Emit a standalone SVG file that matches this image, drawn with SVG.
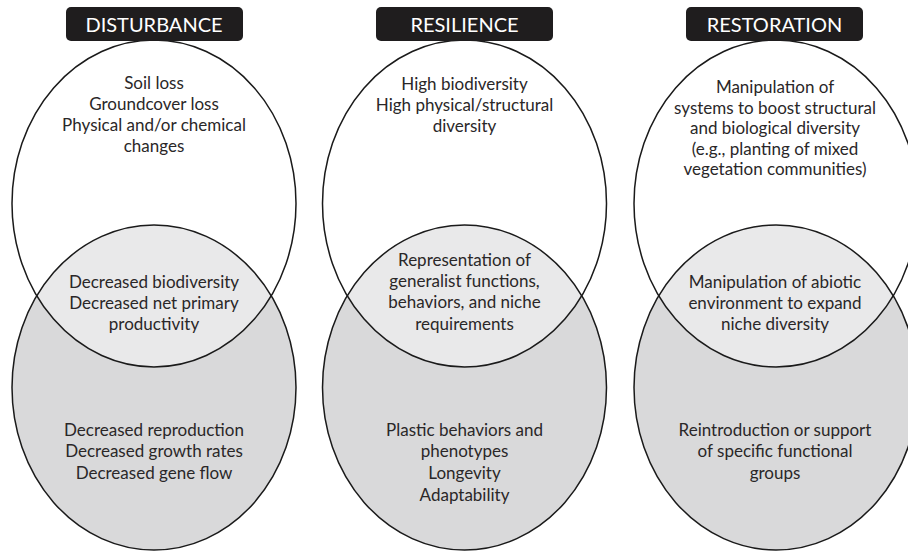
<svg xmlns="http://www.w3.org/2000/svg" xmlns:xlink="http://www.w3.org/1999/xlink" width="908" height="551" viewBox="0 0 908 551">
<style>
.hdr{fill:#1f1d1e}
.ht{fill:#fff;font-family:Lato,"Liberation Sans",sans-serif;font-size:20px;text-anchor:middle}
.t{fill:#2a2728;font-family:Lato,"Liberation Sans",sans-serif;font-size:17px;text-anchor:middle}
.up{fill:#fff}
.lo{fill:#d9d9da}
.mid{fill:#e9e9ea}
.ln{fill:none;stroke:#1a1a1a;stroke-width:1.5}
</style>
<defs>
<ellipse id="eu" cx="0" cy="203.5" rx="142" ry="163.5"/>
<ellipse id="el" cx="0" cy="387.5" rx="142" ry="162.5"/>
<clipPath id="cu"><use xlink:href="#eu"/></clipPath>
</defs>
<rect width="908" height="551" fill="#fff"/>
<g id="disturbance" transform="translate(154,0)">
<use xlink:href="#eu" class="up"/>
<use xlink:href="#el" class="lo"/>
<use xlink:href="#el" class="mid" clip-path="url(#cu)"/>
<use xlink:href="#eu" class="ln"/>
<use xlink:href="#el" class="ln"/>
<rect class="hdr" x="-88" y="7" width="177" height="34" rx="5"/>
<text class="ht" x="0" y="32">DISTURBANCE</text>
<text class="t" x="0" y="89">Soil loss</text>
<text class="t" x="0" y="110">Groundcover loss</text>
<text class="t" x="0" y="131">Physical and/or chemical</text>
<text class="t" x="0" y="152">changes</text>
<text class="t" x="0" y="288">Decreased biodiversity</text>
<text class="t" x="0" y="309">Decreased net primary</text>
<text class="t" x="0" y="330">productivity</text>
<text class="t" x="0" y="436">Decreased reproduction</text>
<text class="t" x="0" y="457">Decreased growth rates</text>
<text class="t" x="0" y="479">Decreased gene flow</text>
</g>
<g id="resilience" transform="translate(464.5,0)">
<use xlink:href="#eu" class="up"/>
<use xlink:href="#el" class="lo"/>
<use xlink:href="#el" class="mid" clip-path="url(#cu)"/>
<use xlink:href="#eu" class="ln"/>
<use xlink:href="#el" class="ln"/>
<rect class="hdr" x="-88.5" y="7" width="177" height="34" rx="5"/>
<text class="ht" x="0" y="32">RESILIENCE</text>
<text class="t" x="0" y="90">High biodiversity</text>
<text class="t" x="0" y="111">High physical/structural</text>
<text class="t" x="0" y="132">diversity</text>
<text class="t" x="0" y="266">Representation of</text>
<text class="t" x="0" y="287">generalist functions,</text>
<text class="t" x="0" y="308">behaviors, and niche</text>
<text class="t" x="0" y="330">requirements</text>
<text class="t" x="0" y="436">Plastic behaviors and</text>
<text class="t" x="0" y="457">phenotypes</text>
<text class="t" x="0" y="479">Longevity</text>
<text class="t" x="0" y="501">Adaptability</text>
</g>
<g id="restoration" transform="translate(776,0)">
<use xlink:href="#eu" class="up"/>
<use xlink:href="#el" class="lo"/>
<use xlink:href="#el" class="mid" clip-path="url(#cu)"/>
<use xlink:href="#eu" class="ln"/>
<use xlink:href="#el" class="ln"/>
<rect class="hdr" x="-90" y="7" width="177" height="34" rx="5"/>
<text class="ht" x="-1.5" y="32">RESTORATION</text>
<text class="t" x="-1" y="93">Manipulation of</text>
<text class="t" x="-1" y="114">systems to boost structural</text>
<text class="t" x="-1" y="134">and biological diversity</text>
<text class="t" x="-1" y="155">(e.g., planting of mixed</text>
<text class="t" x="-1" y="175">vegetation communities)</text>
<text class="t" x="-1" y="288">Manipulation of abiotic</text>
<text class="t" x="-1" y="309">environment to expand</text>
<text class="t" x="-1" y="330">niche diversity</text>
<text class="t" x="-1" y="436">Reintroduction or support</text>
<text class="t" x="-1" y="457">of specific functional</text>
<text class="t" x="-1" y="479">groups</text>
</g>
</svg>
